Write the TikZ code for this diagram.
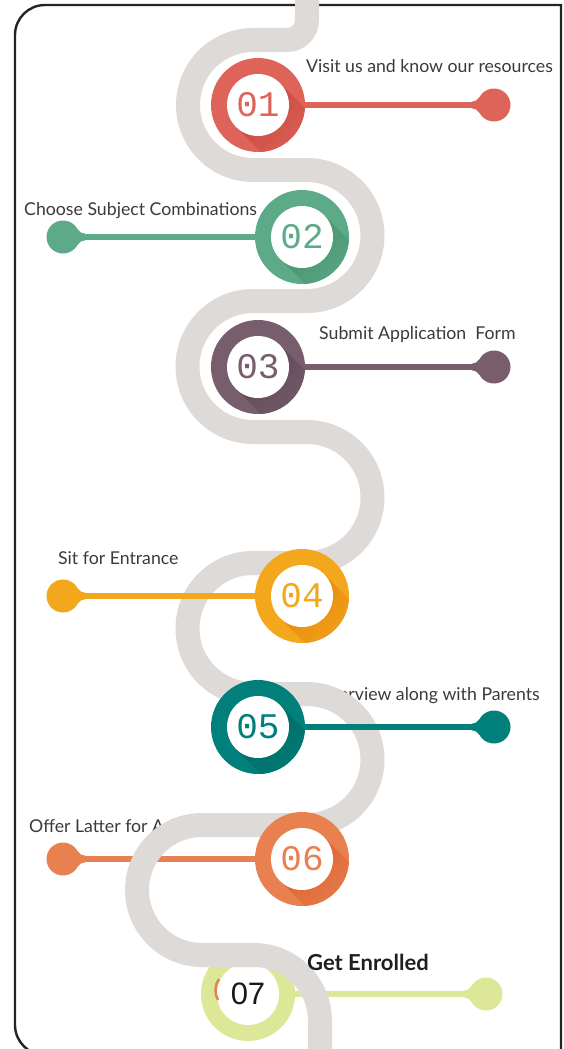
\documentclass[tikz,border=0pt]{standalone}
\usepackage{fontspec}
\newfontfamily\labelfont{Lato}
\newfontfamily\numfont{Liberation Mono}
\newfontfamily\sevenfont{Liberation Sans}
\definecolor{roadc}{HTML}{DEDAD8}
\definecolor{framec}{HTML}{262324}
\definecolor{txtc}{HTML}{3A3A3A}
\definecolor{cA}{HTML}{DE6459}\definecolor{sA}{HTML}{C6453C}
\definecolor{cB}{HTML}{5DAA89}\definecolor{sB}{HTML}{45906C}
\definecolor{cC}{HTML}{785E6C}\definecolor{sC}{HTML}{5E4654}
\definecolor{cD}{HTML}{F2A71C}\definecolor{sD}{HTML}{E8840E}
\definecolor{cE}{HTML}{007F7B}\definecolor{sE}{HTML}{006860}
\definecolor{cF}{HTML}{E9804F}\definecolor{sF}{HTML}{DB6030}
\definecolor{cG}{HTML}{DDE798}
\newcommand{\ringshadow}[3]{%
  \fill[#2] (#1) circle[radius=47];
  \begin{scope}
    \clip (#1) circle[radius=47];
    \begin{scope}[shift={(#1)}]
      \shade[top color=#3, bottom color=#2, shading angle=45]
        (21.9,-21.9) -- (61.9,18.1) -- (18.1,61.9) -- (-21.9,21.9) -- cycle;
    \end{scope}
  \end{scope}
}
\newcommand{\fillet}[3]{%
  \begin{scope}[shift={(#1)}, xscale=#3]
    \fill[#2] (-22.36,-3.25) arc[start angle=90,end angle=28.7,radius=9]
      -- (0,0) -- (-14.47,7.93) arc[start angle=-28.7,end angle=-90,radius=9] -- cycle;
  \end{scope}
}
\begin{document}
\begin{tikzpicture}[x=1pt,y=-1pt,
  dotn/.style={circle, minimum size=33pt, inner sep=0pt, draw=none},
  innern/.style={circle, fill=white, minimum size=62pt, inner sep=0pt,
    font=\numfont\fontsize{36}{36}\selectfont},
  conn/.style={line width=6.5pt},
  lbl/.style={inner sep=0pt, text=txtc, font=\labelfont\fontsize{17.7}{17.7}\selectfont}]
\useasboundingbox (0,0) rectangle (564,1049);
\clip (0,0) rectangle (564,1049);
% centres
\coordinate (p1) at (258,105);
\coordinate (p2) at (302,237);
\coordinate (p3) at (258,367);
\coordinate (p4) at (302,596);
\coordinate (p5) at (258,727);
\coordinate (p6) at (302,859);
\coordinate (p7) at (248,994);
\coordinate (q1) at (494,105);
\coordinate (q2) at (63,237);
\coordinate (q3) at (494,367);
\coordinate (q4) at (63,596);
\coordinate (q5) at (494,727);
\coordinate (q6) at (63,859);
\coordinate (q7) at (486,994);
% frame
\draw[framec, line width=2.4pt] (561,1070) -- (561,5) -- (45,5)
  arc[start angle=270,end angle=180,radius=30] -- (15,1025)
  arc[start angle=180,end angle=90,radius=30] -- (561,1055);
% labels
\node[lbl, anchor=base west] (t1) at (306,73) {Visit us and know our resources};
\node[lbl, anchor=base west] (t2) at (24,215) {Choose Subject Combinations};
\node[lbl, anchor=base west] (t3) at (319,339) {Submit Application\ \ Form};
\node[lbl, anchor=base west] (t4) at (58,564) {Sit for Entrance};
\node[lbl, anchor=base east] (t5) at (540,700) {Interview along with Parents};
\node[lbl, anchor=base west] (t6) at (29,832) {Offer Latter for Admission};
% step 6 connector (under road)
\draw[conn, cF] (p6) -- (q6);
\fillet{q6}{cF}{-1}
\node[dotn, fill=cF] (d6) at (q6) {};
% step 7 (under road)
\draw[conn, cG] (p7) -- (q7);
\fillet{q7}{cG}{1}
\node[dotn, fill=cG] (d7) at (q7) {};
\fill[cG] (p7) circle[radius=47];
\node[innern] (c7) at (p7) {};
\node[inner sep=0pt, text=black!90, font=\sevenfont\fontsize{31}{31}\selectfont] (n7) at (p7) {07};
\draw[cF, line width=2.5pt] (219,979) .. controls (214.5,985) and (214.5,994) .. (218,1000);
% road
\draw[roadc, line width=24pt]
 (307,-10) -- (307,20)
 arc[start angle=0,end angle=90,radius=20]
 -- (253,40)
 arc[start angle=270,end angle=90,radius=65]
 -- (307,170)
 arc[start angle=-90,end angle=90,radius=65.5]
 -- (253,301)
 arc[start angle=270,end angle=90,radius=65.5]
 -- (307,432)
 arc[start angle=-90,end angle=90,radius=65.5]
 -- (253,563)
 arc[start angle=270,end angle=90,radius=65.5]
 -- (307,694)
 arc[start angle=-90,end angle=90,radius=65.5]
 -- (202,825)
 arc[start angle=270,end angle=90,radius=65]
 -- (254,955)
 arc[start angle=-90,end angle=0,radius=66]
 -- (320,1100);
% connectors 1-5
\draw[conn, cA] (p1) -- (q1); \fillet{q1}{cA}{1}
\node[dotn, fill=cA] (d1) at (q1) {};
\draw[conn, cB] (p2) -- (q2); \fillet{q2}{cB}{-1}
\node[dotn, fill=cB] (d2) at (q2) {};
\draw[conn, cC] (p3) -- (q3); \fillet{q3}{cC}{1}
\node[dotn, fill=cC] (d3) at (q3) {};
\draw[conn, cD] (p4) -- (q4); \fillet{q4}{cD}{-1}
\node[dotn, fill=cD] (d4) at (q4) {};
\draw[conn, cE] (p5) -- (q5); \fillet{q5}{cE}{1}
\node[dotn, fill=cE] (d5) at (q5) {};
% rings 1-6
\ringshadow{p1}{cA}{sA}
\node[innern, text=cA] (c1) at (p1) {01};
\ringshadow{p2}{cB}{sB}
\node[innern, text=cB] (c2) at (p2) {02};
\ringshadow{p3}{cC}{sC}
\node[innern, text=cC] (c3) at (p3) {03};
\ringshadow{p4}{cD}{sD}
\node[innern, text=cD] (c4) at (p4) {04};
\ringshadow{p5}{cE}{sE}
\node[innern, text=cE] (c5) at (p5) {05};
\ringshadow{p6}{cF}{sF}
\node[innern, text=cF] (c6) at (p6) {06};
% final label
\node[inner sep=0pt, anchor=base west, text=black!88,
  font=\labelfont\bfseries\fontsize{22}{22}\selectfont] (t7) at (307,970) {Get Enrolled};
\end{tikzpicture}
\end{document}
